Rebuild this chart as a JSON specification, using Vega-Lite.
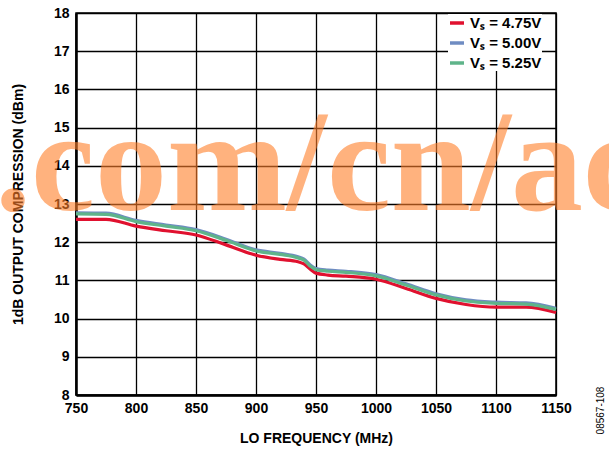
{
  "$schema": "https://vega.github.io/schema/vega-lite/v6.json",
  "autosize": {"type": "none"},
  "width": 480,
  "height": 382,
  "padding": {"left": 76, "top": 13, "right": 53, "bottom": 58},
  "background": "white",
  "config": {
    "view": {"stroke": "#000000", "strokeWidth": 1.5},
    "font": "Liberation Sans",
    "axis": {
      "labelFont": "Liberation Sans",
      "labelFontWeight": "bold",
      "labelFontSize": 14,
      "labelColor": "#000000",
      "titleFont": "Liberation Sans",
      "titleFontWeight": "bold",
      "titleFontSize": 14,
      "titleColor": "#000000",
      "gridColor": "#000000",
      "gridOpacity": 1,
      "gridWidth": 1.3,
      "domainColor": "#000000",
      "domainWidth": 2.5,
      "tickSize": 0,
      "tickOpacity": 0
    }
  },
  "datasets": {
    "curves": [
      {"f": 750, "v": 12.60, "s": "4.75"},
      {"f": 775, "v": 12.60, "s": "4.75"},
      {"f": 800, "v": 12.42, "s": "4.75"},
      {"f": 825, "v": 12.30, "s": "4.75"},
      {"f": 850, "v": 12.19, "s": "4.75"},
      {"f": 875, "v": 11.93, "s": "4.75"},
      {"f": 900, "v": 11.66, "s": "4.75"},
      {"f": 920, "v": 11.55, "s": "4.75"},
      {"f": 935, "v": 11.49, "s": "4.75"},
      {"f": 940, "v": 11.43, "s": "4.75"},
      {"f": 945, "v": 11.30, "s": "4.75"},
      {"f": 950, "v": 11.19, "s": "4.75"},
      {"f": 960, "v": 11.14, "s": "4.75"},
      {"f": 975, "v": 11.11, "s": "4.75"},
      {"f": 1000, "v": 11.03, "s": "4.75"},
      {"f": 1025, "v": 10.79, "s": "4.75"},
      {"f": 1050, "v": 10.53, "s": "4.75"},
      {"f": 1075, "v": 10.37, "s": "4.75"},
      {"f": 1100, "v": 10.30, "s": "4.75"},
      {"f": 1125, "v": 10.30, "s": "4.75"},
      {"f": 1150, "v": 10.16, "s": "4.75"},
      {"f": 750, "v": 12.77, "s": "5.00"},
      {"f": 775, "v": 12.76, "s": "5.00"},
      {"f": 800, "v": 12.57, "s": "5.00"},
      {"f": 825, "v": 12.45, "s": "5.00"},
      {"f": 850, "v": 12.33, "s": "5.00"},
      {"f": 875, "v": 12.08, "s": "5.00"},
      {"f": 900, "v": 11.80, "s": "5.00"},
      {"f": 920, "v": 11.71, "s": "5.00"},
      {"f": 935, "v": 11.62, "s": "5.00"},
      {"f": 940, "v": 11.56, "s": "5.00"},
      {"f": 945, "v": 11.41, "s": "5.00"},
      {"f": 950, "v": 11.31, "s": "5.00"},
      {"f": 960, "v": 11.27, "s": "5.00"},
      {"f": 975, "v": 11.24, "s": "5.00"},
      {"f": 1000, "v": 11.15, "s": "5.00"},
      {"f": 1025, "v": 10.91, "s": "5.00"},
      {"f": 1050, "v": 10.65, "s": "5.00"},
      {"f": 1075, "v": 10.49, "s": "5.00"},
      {"f": 1100, "v": 10.43, "s": "5.00"},
      {"f": 1125, "v": 10.41, "s": "5.00"},
      {"f": 1150, "v": 10.27, "s": "5.00"},
      {"f": 750, "v": 12.74, "s": "5.25"},
      {"f": 775, "v": 12.73, "s": "5.25"},
      {"f": 800, "v": 12.54, "s": "5.25"},
      {"f": 825, "v": 12.42, "s": "5.25"},
      {"f": 850, "v": 12.30, "s": "5.25"},
      {"f": 875, "v": 12.05, "s": "5.25"},
      {"f": 900, "v": 11.77, "s": "5.25"},
      {"f": 920, "v": 11.68, "s": "5.25"},
      {"f": 935, "v": 11.59, "s": "5.25"},
      {"f": 940, "v": 11.53, "s": "5.25"},
      {"f": 945, "v": 11.38, "s": "5.25"},
      {"f": 950, "v": 11.28, "s": "5.25"},
      {"f": 960, "v": 11.24, "s": "5.25"},
      {"f": 975, "v": 11.21, "s": "5.25"},
      {"f": 1000, "v": 11.12, "s": "5.25"},
      {"f": 1025, "v": 10.88, "s": "5.25"},
      {"f": 1050, "v": 10.62, "s": "5.25"},
      {"f": 1075, "v": 10.46, "s": "5.25"},
      {"f": 1100, "v": 10.40, "s": "5.25"},
      {"f": 1125, "v": 10.38, "s": "5.25"},
      {"f": 1150, "v": 10.24, "s": "5.25"}
    ],
    "mark": [{"label": ".com/cn/ac"}]
  },
  "resolve": {"axis": {"y": "independent"}},
  "layer": [
    {
      "data": {"name": "mark"},
      "mark": {"type": "text", "font": "Liberation Serif", "fontWeight": "bold", "fontSize": 144, "align": "left", "baseline": "alphabetic", "fill": "#ff7f2a", "opacity": 0.6},
      "encoding": {
        "text": {"field": "label", "type": "nominal"},
        "x": {"datum": 682.5, "type": "quantitative"},
        "y": {
          "datum": 12.83, "type": "quantitative",
          "axis": {"orient": "right", "labels": false, "domain": false, "grid": false,
                   "title": "08567-108", "titleAngle": 270, "titleFontSize": 10, "titleFontWeight": "normal",
                   "titleX": 44, "titleY": 397, "titleAlign": "center", "titleBaseline": "middle"}
        }
      }
    },
    {
      "data": {"name": "curves"},
      "mark": {"type": "line", "interpolate": "monotone", "strokeWidth": 3.2},
      "encoding": {
        "x": {
          "field": "f", "type": "quantitative",
          "scale": {"domain": [750, 1150], "nice": false, "zero": false},
          "axis": {"values": [750, 800, 850, 900, 950, 1000, 1050, 1100, 1150], "format": "d", "title": "LO FREQUENCY (MHz)", "labelPadding": 6, "titlePadding": 16, "labelFlush": false, "grid": true}
        },
        "y": {
          "field": "v", "type": "quantitative",
          "scale": {"domain": [8, 18], "nice": false, "zero": false},
          "axis": {"values": [8, 9, 10, 11, 12, 13, 14, 15, 16, 17, 18], "format": "d", "title": "1dB OUTPUT COMPRESSION (dBm)", "labelPadding": 7, "titlePadding": 28, "grid": true}
        },
        "color": {
          "field": "s", "type": "nominal",
          "scale": {"domain": ["4.75", "5.00", "5.25"], "range": ["#e0112f", "#6f8cc2", "#5fb48a"]},
          "legend": {
            "orient": "none", "legendX": 372, "legendY": 1, "title": null,
            "fillColor": "white", "padding": 0,
            "symbolType": "stroke", "symbolSize": 196, "symbolStrokeWidth": 3.5,
            "labelFont": "Liberation Sans", "labelFontWeight": "bold", "labelFontSize": 15, "labelColor": "#000000",
            "labelOffset": 4, "rowPadding": 3,
            "labelExpr": "'Vₛ = ' + datum.label + 'V'"
          }
        },
        "order": {"field": "s"}
      }
    }
  ]
}
